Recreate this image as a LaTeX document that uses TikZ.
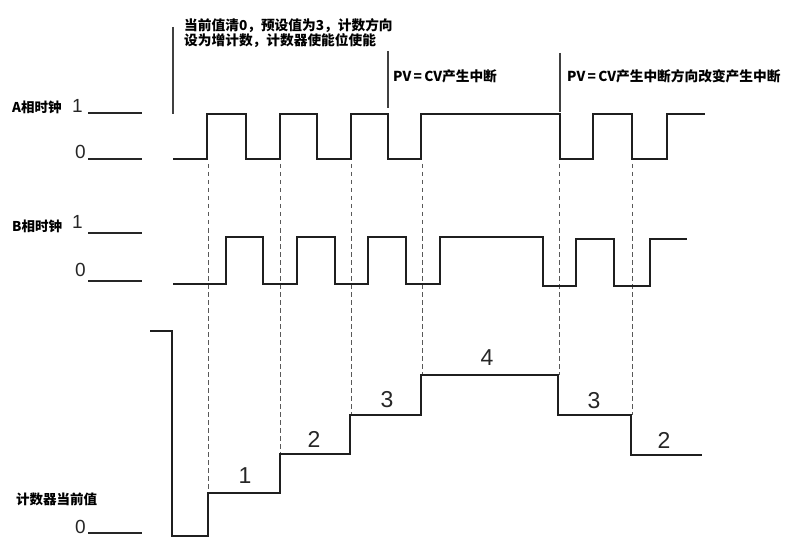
\documentclass[tikz,border=0pt]{standalone}
\usepackage{fontspec}
\setmainfont{Liberation Sans}
\newfontfamily\cjk{Noto Sans CJK SC}
\begin{document}
\begin{tikzpicture}[x=1pt,y=-1pt,
  wave/.style={line width=2.4pt,color=black!88,line join=miter},
  marker/.style={line width=1.4pt,color=black!75},
  guide/.style={line width=0.8pt,color=black!65,dash pattern=on 4.5pt off 3.5pt},
  level/.style={line width=2pt,color=black!85},
  cn/.style={font=\cjk\bfseries\fontsize{13.5}{15}\selectfont,inner sep=0pt,anchor=base west,color=black},
  ct/.style={font=\cjk\bfseries\fontsize{13.7}{16}\selectfont,inner sep=0pt,anchor=base west,color=black},
  lv/.style={font=\fontsize{19}{20}\selectfont,inner sep=0pt,anchor=base east,color=black!85},
  num/.style={font=\fontsize{23}{24}\selectfont,inner sep=0pt,anchor=base,color=black!85}]
\useasboundingbox (0,0) rectangle (786,553);
% labels
\node[cn] (la) at (12,113) {A相时钟};
\node[cn] (lb) at (12,231) {B相时钟};
\node[cn] (lc) at (16,504) {计数器当前值};
\node[lv] (a1) at (83,113) {1};
\node[lv] (a0) at (86,159) {0};
\node[lv] (b1) at (83,229) {1};
\node[lv] (b0) at (86,276) {0};
\node[lv] (c0) at (86,533) {0};
\draw[level] (88,113) -- (142,113);
\draw[level] (88,159) -- (142,159);
\draw[level] (88,233) -- (142,233);
\draw[level] (88,281) -- (142,281);
\draw[level] (88,533) -- (142,533);
% top annotations
\node[ct] (t1) at (184,31) {当前值清0，预设值为3，计数方向};
\node[ct] (t2) at (184,46) {设为增计数，计数器使能位使能};
\node[ct] (t3) at (393,82) {PV\,=\,CV产生中断};
\node[ct] (t4) at (567,82) {PV\,=\,CV产生中断方向改变产生中断};
\draw[marker] (173,27) -- (173,114);
\draw[marker] (388,51) -- (388,108);
\draw[marker] (560,53) -- (560,112);
% guides
\draw[guide] (208,164) -- (208,493);
\draw[guide] (280,164) -- (280,454);
\draw[guide] (351,164) -- (351,415);
\draw[guide] (422,164) -- (422,375);
\draw[guide] (559,164) -- (559,375);
\draw[guide] (632,164) -- (632,415);
% A phase
\draw[wave] (173,159) -- (207,159) -- (207,114) -- (246,114) -- (246,159) -- (280,159) -- (280,114) -- (317,114) -- (317,159) -- (351,159) -- (351,114) -- (388,114) -- (388,159) -- (421,159) -- (421,114) -- (560,114) -- (560,159) -- (593,159) -- (593,114) -- (632,114) -- (632,159) -- (667,159) -- (667,114) -- (705,114);
% B phase
\draw[wave] (173,284) -- (226,284) -- (226,237) -- (263,237) -- (263,284) -- (297,284) -- (297,237) -- (335,237) -- (335,284) -- (368,284) -- (368,237) -- (406,237) -- (406,284) -- (440,284) -- (440,237) -- (543,237) -- (543,286) -- (576,286) -- (576,239) -- (614,239) -- (614,286) -- (650,286) -- (650,239) -- (687,239);
% counter
\draw[wave] (150,331) -- (172,331) -- (172,536) -- (208,536) -- (208,493) -- (280,493) -- (280,454) -- (350,454) -- (350,415) -- (421,415) -- (421,375) -- (558,375) -- (558,415) -- (631,415) -- (631,455) -- (702,455);
\node[num] (n1) at (245,483) {1};
\node[num] (n2) at (314,447) {2};
\node[num] (n3) at (387,407) {3};
\node[num] (n4) at (487,365) {4};
\node[num] (n5) at (594,408) {3};
\node[num] (n6) at (664,448) {2};
\end{tikzpicture}
\end{document}
